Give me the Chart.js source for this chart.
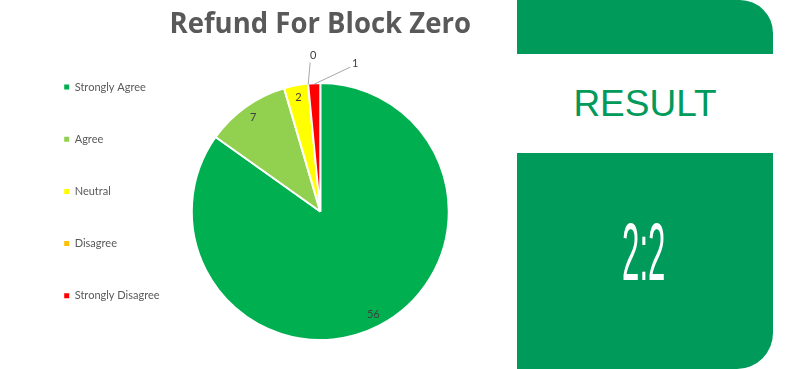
<!DOCTYPE html>
<html>
<head>
<meta charset="utf-8">
<script src="https://cdn.jsdelivr.net/npm/chart.js@4.4.1/dist/chart.umd.min.js"></script>
<style>
  html, body { margin: 0; padding: 0; background: #fff; }
  body { width: 798px; height: 369px; position: relative; overflow: hidden; }
  #chartBox { position: absolute; left: 0; top: 0; width: 517px; height: 369px; }
  .panel { position: absolute; left: 517px; width: 256px; background: #009A5B; }
  #panelTop { top: 0; height: 54px; border-top-right-radius: 33px; }
  #panelBottom { top: 153px; height: 216px; border-bottom-right-radius: 36px; }
  #resultLabel {
    position: absolute; left: 517px; width: 256px; top: 82px; text-align: center;
    font-family: "Liberation Sans", Arial, sans-serif; font-size: 37px; color: #009A5B; line-height: 44px;
  }
  #score {
    position: absolute; left: 517px; width: 256px; top: 204px; text-align: center;
    font-family: "Liberation Sans", Arial, sans-serif; font-size: 82px; line-height: 96px; color: #fff;
    transform: scaleX(0.38); transform-origin: 126px 50%;
  }
</style>
</head>
<body>
<div id="chartBox"><canvas id="refundChart"></canvas></div>
<div class="panel" id="panelTop"></div>
<div id="resultLabel">RESULT</div>
<div class="panel" id="panelBottom"></div>
<div id="score">2:2</div>

<script>
// Raspunsuri
const answers = ['Strongly Agree', 'Agree', 'Neutral', 'Disagree', 'Strongly Disagree'];
const votes = [56, 7, 2, 0, 1];
const sliceColors = ['#00B050', '#92D050', '#FFFF00', '#FFC000', '#FF0000'];

// Etichetele de pe felii (cele mici ies in afara cu linie)
const sliceLabels = {
    id: 'sliceLabels',
    afterDatasetsDraw(chart) {
        const ctx = chart.ctx;
        const meta = chart.getDatasetMeta(0);
        let outside = 0;
        ctx.save();
        ctx.font = '11px Lato';
        ctx.fillStyle = '#404040';
        ctx.textAlign = 'center';
        ctx.textBaseline = 'middle';
        ctx.strokeStyle = '#A6A6A6';
        ctx.lineWidth = 1;
        meta.data.forEach((arc, i) => {
            const p = arc.getProps(['x', 'y', 'startAngle', 'endAngle', 'outerRadius'], true);
            const mid = (p.startAngle + p.endAngle) / 2;
            if (votes[i] >= 2) {
                const d = p.outerRadius * 0.9;
                ctx.fillText(votes[i], p.x + Math.cos(mid) * d, p.y + Math.sin(mid) * d);
            } else {
                const ax = p.x + Math.cos(mid) * (p.outerRadius - 1);
                const ay = p.y + Math.sin(mid) * (p.outerRadius - 1);
                const lx = outside === 0 ? ax + 2 : ax + 36;
                const ly = outside === 0 ? ay - 22 : ay - 17;
                ctx.beginPath();
                ctx.moveTo(ax, ay);
                ctx.lineTo(lx, ly);
                ctx.stroke();
                if (outside === 0) ctx.fillText(votes[i], lx + 3, ly - 7);
                else ctx.fillText(votes[i], lx + 5, ly - 4);
                outside++;
            }
        });
        ctx.restore();
    }
};

const ctxRefund = document.getElementById('refundChart').getContext('2d');
new Chart(ctxRefund, {
    type: 'pie',
    data: {
        labels: answers,
        datasets: [{
            data: votes,
            backgroundColor: sliceColors,
            borderColor: '#FFFFFF',
            borderWidth: 2,
            radius: 128.5
        }]
    },
    options: {
        responsive: true,
        maintainAspectRatio: false,
        animation: false,
        events: [],
        layout: { padding: { left: 23, right: 46, top: 0, bottom: 26.5 } },
        plugins: {
            title: {
                display: true,
                text: 'Refund For Block Zero',
                fullSize: false,
                color: '#595959',
                font: { family: 'Open Sans', size: 28, weight: 'bold' },
                padding: { top: 8, bottom: 38.9 }
            },
            legend: {
                position: 'left',
                align: 'end',
                labels: {
                    boxWidth: 5,
                    boxHeight: 5,
                    padding: 41.2,
                    color: '#595959',
                    font: { family: 'Lato', size: 11 },
                    generateLabels(chart) {
                        return Chart.overrides.doughnut.plugins.legend.labels.generateLabels(chart)
                            .map(item => ({ ...item, lineWidth: 0 }));
                    }
                }
            },
            tooltip: { enabled: false }
        }
    },
    plugins: [sliceLabels]
});
</script>
</body>
</html>
